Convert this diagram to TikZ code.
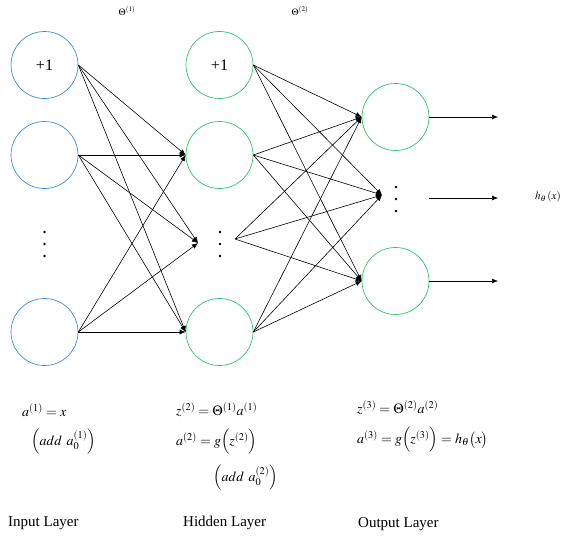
\documentclass[tikz,border=0pt]{standalone}
\usepackage{mathptmx}
\usepackage{fontspec}
\setmainfont{Liberation Serif}
\usetikzlibrary{arrows.meta}
\definecolor{inblue}{RGB}{58,142,219}
\definecolor{nngreen}{RGB}{46,196,110}
\begin{document}
\begin{tikzpicture}[x=1pt,y=-1pt,
  neuronin/.style={circle,draw=inblue,line width=0.7pt,minimum size=67pt,inner sep=0pt,font=\fontsize{16}{16}\selectfont},
  neuronhid/.style={circle,draw=nngreen,line width=0.7pt,minimum size=67pt,inner sep=0pt,font=\fontsize{16}{16}\selectfont},
  conn/.style={line width=0.6pt,-{Latex[length=6pt,width=5pt]}},
  dotmark/.style={circle,fill=black,inner sep=0pt,minimum size=2.6pt},
  formula/.style={anchor=west,inner sep=0pt,font=\fontsize{14}{16}\selectfont},
  layerlbl/.style={anchor=west,inner sep=0pt,font=\fontsize{15}{16}\selectfont},
  smalllbl/.style={inner sep=0pt,font=\fontsize{9.5}{10}\selectfont}]
\useasboundingbox (0,0) rectangle (565,541);
% input layer
\node[neuronin] (i1) at (44.5,65) {+1};
\node[neuronin] (i2) at (44.5,155) {};
\node[neuronin] (i3) at (44.5,332) {};
\node[dotmark] (id1) at (44.5,232) {};
\node[dotmark] (id2) at (44.5,244) {};
\node[dotmark] (id3) at (44.5,256) {};
% hidden layer
\node[neuronhid] (h1) at (219.5,65) {+1};
\node[neuronhid] (h2) at (219.5,155) {};
\node[neuronhid] (h3) at (219.5,332) {};
\node[dotmark] (hd1) at (220,232) {};
\node[dotmark] (hd2) at (220,244) {};
\node[dotmark] (hd3) at (220,256) {};
\coordinate (hdin) at (198,243);
\coordinate (hdout) at (235,239);
% output layer
\node[neuronhid] (o1) at (395.5,117) {};
\node[neuronhid] (o3) at (395.5,281) {};
\node[dotmark] (od1) at (396,187) {};
\node[dotmark] (od2) at (396,199) {};
\node[dotmark] (od3) at (396,211) {};
\coordinate (odin) at (382,195);
% input -> hidden
\foreach \s in {i1,i2,i3}{
  \draw[conn] (\s.east) -- (h2.west);
  \draw[conn] (\s.east) -- (hdin);
  \draw[conn] (\s.east) -- (h3.west);
}
% hidden -> output
\foreach \s in {h1.east,h2.east,hdout,h3.east}{
  \draw[conn] (\s) -- (o1.west);
  \draw[conn] (\s) -- (odin);
  \draw[conn] (\s) -- (o3.west);
}
% outputs
\coordinate (e1) at (498,117);
\coordinate (e2) at (498,198);
\coordinate (e3) at (498,281);
\coordinate (s2) at (429,198);
\draw[conn] (o1.east) -- (e1);
\draw[conn] (s2) -- (e2);
\draw[conn] (o3.east) -- (e3);
\node[smalllbl,font=\fontsize{11}{12}\selectfont] (hx) at (548,197) {$h_\theta\left(x\right)$};
% theta labels
\node[smalllbl] (t1) at (127,11) {$\Theta^{(1)}$};
\node[smalllbl] (t2) at (300,11) {$\Theta^{(2)}$};
% formulas
\node[formula] (f1) at (22,410) {$a^{(1)}=x$};
\node[formula] (f2) at (31,442) {$\Bigl(add\;\,a_0^{(1)}\Bigr)$};
\node[formula] (f3) at (176,410) {$z^{(2)}=\Theta^{(1)}a^{(1)}$};
\node[formula] (f4) at (176,442) {$a^{(2)}=g\Bigl(z^{(2)}\Bigr)$};
\node[formula] (f5) at (213,478) {$\Bigl(add\;\,a_0^{(2)}\Bigr)$};
\node[formula] (f6) at (357,408) {$z^{(3)}=\Theta^{(2)}a^{(2)}$};
\node[formula] (f7) at (357,440) {$a^{(3)}=g\Bigl(z^{(3)}\Bigr)=h_\theta\bigl(x\bigr)$};
% layer labels
\node[layerlbl] (l1) at (8,523) {Input Layer};
\node[layerlbl] (l2) at (183,523) {Hidden Layer};
\node[layerlbl] (l3) at (358,524) {Output Layer};
\end{tikzpicture}
\end{document}
